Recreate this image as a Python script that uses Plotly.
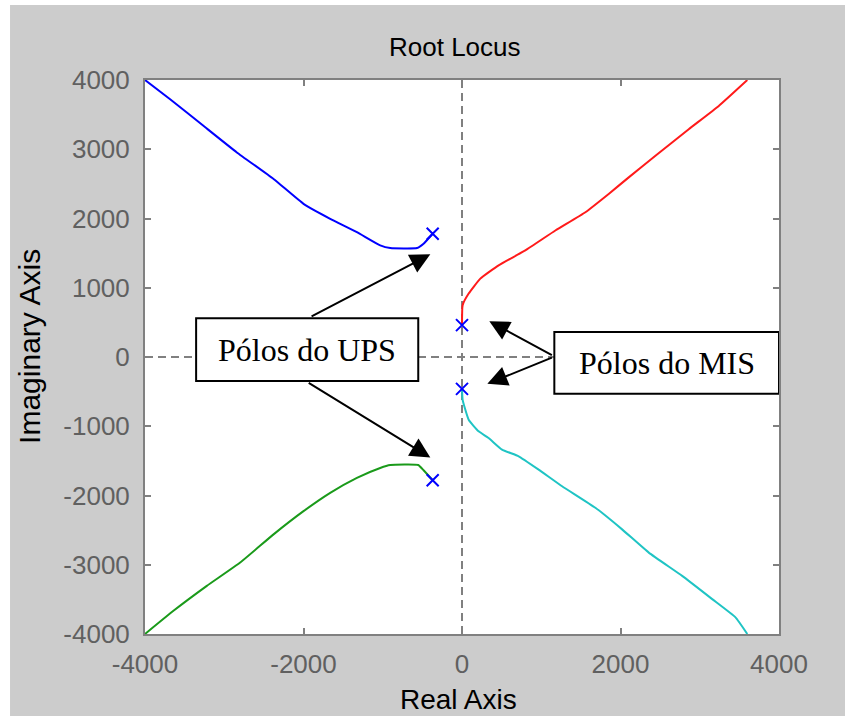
import plotly.graph_objects as go

# Root-locus branches (real part, imaginary part)
blue_re = [-4000, -3683, -3263, -2841, -2378, -2000, -1663, -1326, -1032, -905, -568, -485, -370]
blue_im = [4000, 3722, 3338, 2954, 2571, 2212, 1996, 1803, 1612, 1573, 1573, 1636, 1780]

green_re = [-370, -485, -552, -905, -1032, -1326, -1663, -2000, -2378, -2799, -3220, -3641, -4000]
green_im = [-1780, -1636, -1560, -1560, -1602, -1745, -1961, -2226, -2561, -2968, -3305, -3665, -4000]

red_re = [0, 8, 84, 231, 462, 799, 1178, 1557, 1851, 2104, 2441, 2861, 3240, 3600]
red_im = [460, 748, 916, 1132, 1324, 1540, 1827, 2091, 2355, 2594, 2906, 3290, 3626, 4000]

cyan_re = [0, 8, 84, 210, 336, 505, 715, 967, 1263, 1683, 2020, 2357, 2778, 3157, 3451, 3600]
cyan_im = [-460, -619, -906, -1074, -1170, -1338, -1434, -1626, -1866, -2177, -2489, -2825, -3161, -3496, -3760, -4000]

# Open-loop poles
pole_re = [-370, -370, 0, 0]
pole_im = [1780, -1780, 460, -460]

tick_vals_x = [-4000, -2000, 0, 2000, 4000]
tick_text_x = ["-4000", "-2000", "0", "2000", "4000"]
tick_vals_y = [-4000, -3000, -2000, -1000, 0, 1000, 2000, 3000, 4000]
tick_text_y = ["-4000", "-3000", "-2000", "-1000", "0", "1000", "2000", "3000", "4000"]

AX_RANGE = [-4000, 4000]
GREY = "#808080"
BG = "#cccccc"
SANS = "Liberation Sans, Arial, sans-serif"
SERIF = "Liberation Serif, Times New Roman, serif"

fig = go.Figure()

for re_, im_, col in [(blue_re, blue_im, "#0000ff"),
                      (green_re, green_im, "#1a9a1a"),
                      (red_re, red_im, "#ff1a1a"),
                      (cyan_re, cyan_im, "#1fc4c4")]:
    fig.add_trace(go.Scatter(x=re_, y=im_, mode="lines",
                             line=dict(color=col, width=2, shape="spline", smoothing=0.4),
                             hoverinfo="skip"))

fig.add_trace(go.Scatter(x=pole_re, y=pole_im, mode="markers",
                         marker=dict(symbol="x-thin", size=12,
                                     line=dict(color="#0000ff", width=2)),
                         hoverinfo="skip"))

shapes = [
    # dashed axes through the origin
    dict(type="line", xref="x", yref="y", x0=0, x1=0, y0=-4000, y1=4000,
         line=dict(color=GREY, width=2, dash="8px,5px"), layer="below"),
    dict(type="line", xref="x", yref="y", x0=-4000, x1=4000, y0=0, y1=0,
         line=dict(color=GREY, width=2, dash="8px,5px"), layer="below"),
    # label boxes
    dict(type="rect", xref="x", yref="y", x0=-3355, x1=-552, y0=-345, y1=561,
         fillcolor="white", line=dict(color="black", width=2), layer="above"),
    dict(type="rect", xref="x", yref="y", x0=1165, x1=4000, y0=-532, y1=360,
         fillcolor="white", line=dict(color="black", width=2), layer="above"),
    # thin white frame on the top and left edges of the page
    dict(type="rect", xref="paper", yref="paper", x0=-0.30, x1=-0.2129, y0=-0.2, y1=1.2,
         fillcolor="white", line=dict(width=0)),
    dict(type="rect", xref="paper", yref="paper", x0=-0.3, x1=1.2, y0=1.1354, y1=1.2,
         fillcolor="white", line=dict(width=0)),
]

annotations = [
    dict(text="Root Locus", xref="paper", yref="paper", x=0.489, y=1.0596,
         showarrow=False, font=dict(family=SANS, size=26, color="black"),
         xanchor="center", yanchor="middle"),
    dict(text="Real Axis", xref="paper", yref="paper", x=0.495, y=-0.119,
         showarrow=False, font=dict(family=SANS, size=28, color="black"),
         xanchor="center", yanchor="middle"),
    dict(text="Imaginary Axis", xref="paper", yref="paper", x=-0.1814, y=0.52,
         showarrow=False, textangle=-90, font=dict(family=SANS, size=30, color="black"),
         xanchor="center", yanchor="middle"),
    dict(text="Pólos do UPS", xref="x", yref="y", x=-1951, y=108, showarrow=False,
         font=dict(family=SERIF, size=32, color="black"), xanchor="center", yanchor="middle"),
    dict(text="Pólos do MIS", xref="x", yref="y", x=2592, y=-86, showarrow=False,
         font=dict(family=SERIF, size=32, color="black"), xanchor="center", yanchor="middle"),
]

# arrows: (tip_x, tip_y, tail_x, tail_y)
arrows = [(-400, 1482, -1917, 576), (-400, -1453, -1953, -360),
          (345, 518, 1153, 14), (320, -388, 1153, 0)]
for tx, ty, sx, sy in arrows:
    annotations.append(dict(x=tx, y=ty, ax=sx, ay=sy, xref="x", yref="y",
                            axref="x", ayref="y", text="", showarrow=True,
                            arrowhead=2, arrowsize=2, arrowwidth=2,
                            arrowcolor="black"))

axis_common = dict(range=AX_RANGE, showgrid=False, zeroline=False,
                   showline=True, linecolor=GREY, linewidth=2, mirror="ticks",
                   ticks="inside", ticklen=6, tickwidth=2, tickcolor=GREY,
                   tickfont=dict(family=SANS, size=26, color="#606060"))

fig.update_layout(
    width=845, height=716,
    margin=dict(l=145, r=66, t=80, b=82),
    paper_bgcolor=BG, plot_bgcolor="white",
    showlegend=False,
    shapes=shapes, annotations=annotations,
    xaxis=dict(**axis_common, tickvals=tick_vals_x, ticktext=tick_text_x,
               ticklabelstandoff=6),
    yaxis=dict(**axis_common, tickvals=tick_vals_y, ticktext=tick_text_y,
               ticklabelstandoff=8),
)

fig.write_html("out.html")
